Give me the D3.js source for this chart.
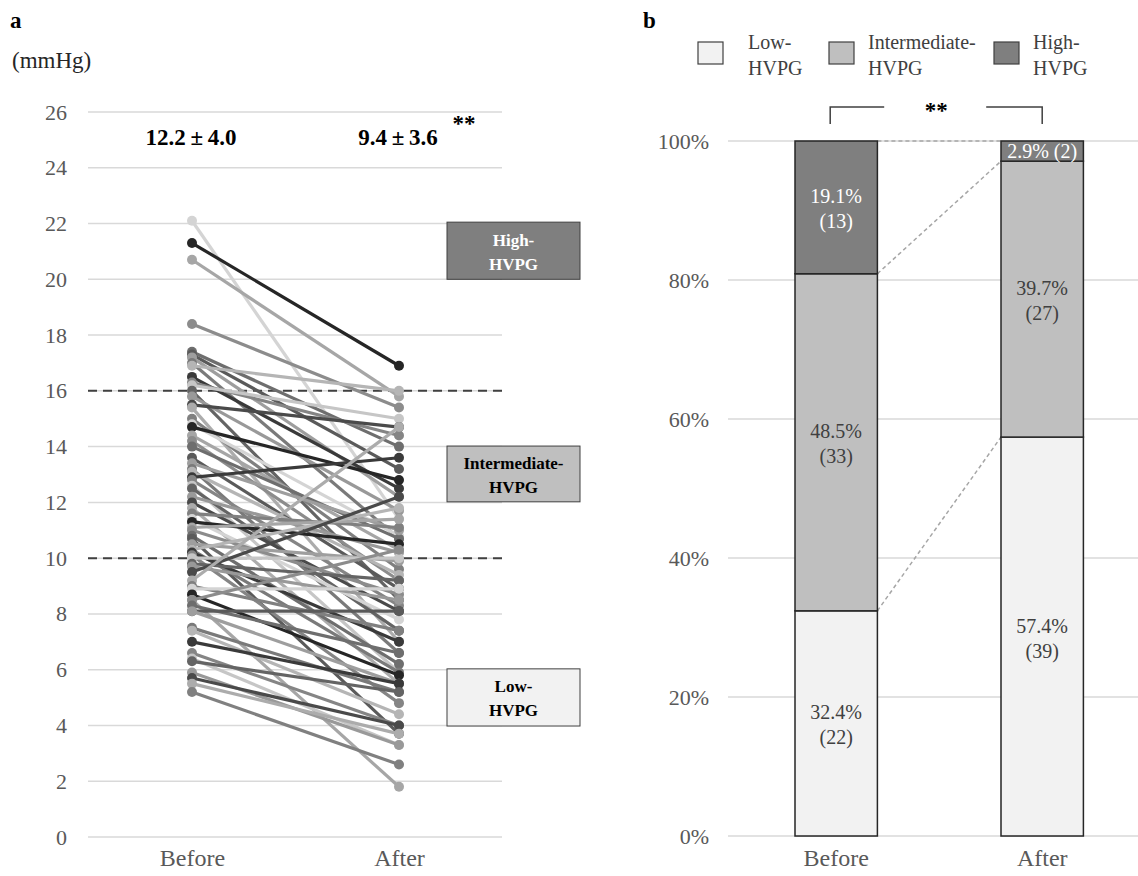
<!doctype html>
<html>
<head>
<meta charset="utf-8">
<style>
    body { margin: 0; background: #fff; }
    svg { display: block; font-family: 'Liberation Serif', 'Times New Roman', serif; }
    .tick-label { font-size: 22px; fill: #595959; }
    .cat-label { font-size: 24px; fill: #595959; }
    .grid { stroke: #d9d9d9; stroke-width: 1.5; }
    .panel { font-size: 23px; font-weight: bold; fill: #000; }
    .stat { font-size: 23px; font-weight: bold; fill: #000; }
    .box-text { font-size: 17px; font-weight: bold; }
    .seg-label { font-size: 20px; }
    .legend-text { font-size: 20px; fill: #404040; }
</style>
<script src="https://d3js.org/d3.v7.min.js"></script>
</head>
<body>
<svg width="1138" height="876"></svg>
<script>
// ---- data: panel a (HVPG per patient, mmHg)
const timepoints = ['Before', 'After'];
const hvpgBefore = [22.1, 21.3, 20.7, 18.4, 17.4, 17.3, 17.2, 17.0, 16.9, 16.5, 16.3, 16.2, 16.0,
    15.8, 15.5, 15.4, 15.0, 14.8, 14.7, 14.4, 14.2, 14.0, 13.6, 13.4, 13.2, 13.1, 12.9, 12.8, 12.6,
    12.5, 12.2, 12.0, 11.8, 11.6, 11.4, 11.3, 11.1, 11.0, 10.8, 10.7, 10.5, 10.3, 10.3, 10.2, 10.1, 10.0,
    9.8, 9.7, 9.5, 9.2, 9.0, 8.9, 8.7, 8.5, 8.5, 8.3, 8.1, 8.1, 7.5, 7.4, 7.0, 6.6, 6.4, 6.3, 5.9, 5.7, 5.5, 5.2];
const hvpgAfter = [11.4, 16.9, 15.8, 15.4, 14.0, 13.2, 12.2, 10.7, 16.0, 12.5, 14.4, 15.0, 8.5,
    11.7, 14.7, 7.0, 9.6, 10.8, 12.8, 10.3, 9.2, 10.7, 8.9, 11.0, 6.6, 9.4, 13.6, 8.3, 5.9,
    7.4, 10.2, 8.1, 5.5, 11.1, 7.8, 10.5, 11.4, 8.7, 6.2, 3.7, 9.9, 5.9, 11.8, 7.0, 4.8, 10.0,
    9.2, 8.5, 12.2, 14.7, 7.4, 8.9, 5.8, 1.8, 10.3, 6.6, 8.1, 5.5, 5.2, 4.4, 5.5, 4.0, 3.3, 5.2, 3.3, 4.0, 3.7, 2.6];
const yTicksA = [0, 2, 4, 6, 8, 10, 12, 14, 16, 18, 20, 22, 24, 26];
const cutoffs = [10, 16];
const statLabels = ['12.2\u2009\u00b1\u20094.0', '9.4\u2009\u00b1\u20093.6'];
const zoneBoxes = [
    { lines: ['High-', 'HVPG'], top: 22.05, bottom: 20.0, group: 'High-HVPG' },
    { lines: ['Intermediate-', 'HVPG'], top: 14.02, bottom: 12.02, group: 'Intermediate-HVPG' },
    { lines: ['Low-', 'HVPG'], top: 6.03, bottom: 3.98, group: 'Low-HVPG' }
];

// ---- data: panel b (category share, %, and counts)
const groups = ['Low-HVPG', 'Intermediate-HVPG', 'High-HVPG'];
const pctBefore = [32.4, 48.5, 19.1];
const pctAfter = [57.4, 39.7, 2.9];
const nBefore = [22, 33, 13];
const nAfter = [39, 27, 2];
const yTicksB = [0, 20, 40, 60, 80, 100];

const fills = { 'Low-HVPG': '#f2f2f2', 'Intermediate-HVPG': '#bfbfbf', 'High-HVPG': '#7f7f7f' };
const lineShades = ['#d4d4d4', '#262626', '#a6a6a6', '#8c8c8c', '#6e6e6e', '#5a5a5a', '#9e9e9e',
    '#7a7a7a', '#b5b5b5', '#3a3a3a', '#858585', '#c6c6c6', '#646464', '#999999', '#4a4a4a', '#acacac', '#808080'];

const svg = d3.select('svg');

function styleAxis(g, cls) {
    g.attr('font-family', null).attr('font-size', null);
    g.select('.domain').remove();
    g.selectAll('text').attr('class', cls).attr('fill', null);
}

// ================= panel a =================
const ya = d3.scaleLinear().domain([0, 26]).range([837, 112]);
const xa = d3.scalePoint().domain(timepoints).range([192, 399]);
const aLeft = 88, aRight = 502;

svg.append('text').attr('class', 'panel').attr('x', 10).attr('y', 28).text('a');
svg.append('text').attr('x', 12).attr('y', 68).attr('font-size', 23).attr('fill', '#262626').text('(mmHg)');

svg.append('g').selectAll('line').data(yTicksA).join('line')
    .attr('class', 'grid')
    .attr('x1', aLeft).attr('x2', aRight)
    .attr('y1', d => ya(d)).attr('y2', d => ya(d));

svg.append('g')
    .attr('transform', `translate(${aLeft - 10},0)`)
    .call(d3.axisLeft(ya).tickValues(yTicksA).tickSize(0).tickPadding(11))
    .call(styleAxis, 'tick-label');

svg.append('g')
    .attr('transform', 'translate(0,845)')
    .call(d3.axisBottom(xa).tickSize(0).tickPadding(4))
    .call(styleAxis, 'cat-label');

svg.append('g').selectAll('line').data(cutoffs).join('line')
    .attr('x1', aLeft).attr('x2', aRight)
    .attr('y1', d => ya(d)).attr('y2', d => ya(d))
    .attr('stroke', '#404040').attr('stroke-width', 2).attr('stroke-dasharray', '9,6');

const pts = hvpgBefore.map((b, i) => ({ b, a: hvpgAfter[i], c: lineShades[i % lineShades.length] }));
const pg = svg.append('g');
pts.forEach(p => {
    const g = pg.append('g');
    g.append('line')
        .attr('x1', xa('Before')).attr('y1', ya(p.b))
        .attr('x2', xa('After')).attr('y2', ya(p.a))
        .attr('stroke', p.c).attr('stroke-width', 3.2);
    g.append('circle').attr('cx', xa('Before')).attr('cy', ya(p.b)).attr('r', 5).attr('fill', p.c);
    g.append('circle').attr('cx', xa('After')).attr('cy', ya(p.a)).attr('r', 5).attr('fill', p.c);
});

svg.append('g').selectAll('text').data(statLabels).join('text')
    .attr('class', 'stat')
    .attr('x', (d, i) => xa(timepoints[i]) - 1)
    .attr('y', 145)
    .attr('text-anchor', 'middle')
    .text(d => d);
svg.append('text').attr('class', 'stat').attr('x', 464).attr('y', 131)
    .attr('text-anchor', 'middle').attr('font-size', 20).text('**');

const boxX = 447, boxW = 133;
const zg = svg.append('g').selectAll('g').data(zoneBoxes).join('g');
zg.append('rect')
    .attr('x', boxX).attr('width', boxW)
    .attr('y', d => ya(d.top)).attr('height', d => ya(d.bottom) - ya(d.top))
    .attr('fill', d => fills[d.group])
    .attr('stroke', '#404040').attr('stroke-width', 1);
zg.each(function (d) {
    const cy = (ya(d.top) + ya(d.bottom)) / 2;
    d3.select(this).selectAll('text.box-text').data(d.lines).join('text')
        .attr('class', 'box-text')
        .attr('x', boxX + boxW / 2)
        .attr('y', (t, i) => cy - 5 + i * 24)
        .attr('text-anchor', 'middle')
        .attr('fill', d.group === 'High-HVPG' ? '#fff' : '#000')
        .text(t => t);
});

// ================= panel b =================
const yb = d3.scaleLinear().domain([0, 100]).range([836, 141]);
const xb = d3.scaleBand().domain(timepoints).range([712.6, 1165.8]).paddingInner(0.6).paddingOuter(0.4);
const bLeft = 728, bRight = 1138;

svg.append('text').attr('class', 'panel').attr('x', 643).attr('y', 28).text('b');

svg.append('g').selectAll('line').data(yTicksB).join('line')
    .attr('class', 'grid')
    .attr('x1', bLeft).attr('x2', bRight)
    .attr('y1', d => yb(d)).attr('y2', d => yb(d));

svg.append('g')
    .attr('transform', `translate(${bLeft - 8},0)`)
    .call(d3.axisLeft(yb).tickValues(yTicksB).tickSize(0).tickPadding(11).tickFormat(d => d + '%'))
    .call(styleAxis, 'tick-label');

svg.append('g')
    .attr('transform', 'translate(0,845)')
    .call(d3.axisBottom(xb).tickSize(0).tickPadding(4))
    .call(styleAxis, 'cat-label');

const table = timepoints.map((t, ti) => {
    const pct = ti === 0 ? pctBefore : pctAfter;
    const n = ti === 0 ? nBefore : nAfter;
    const row = { time: t };
    groups.forEach((g, gi) => { row[g] = pct[gi]; row[g + '_n'] = n[gi]; });
    return row;
});
const stacked = d3.stack().keys(groups)(table);

// dashed connectors between bar tops of each stack level
const levels = stacked.map(s => [s[0][1], s[1][1]]);
svg.append('g').selectAll('line').data(levels).join('line')
    .attr('x1', xb('Before') + xb.bandwidth()).attr('x2', xb('After'))
    .attr('y1', d => yb(d[0])).attr('y2', d => yb(d[1]))
    .attr('stroke', '#a6a6a6').attr('stroke-width', 1.5).attr('stroke-dasharray', '4,3');

stacked.forEach(s => {
    const key = s.key;
    const g = svg.append('g');
    g.selectAll('rect').data(s).join('rect')
        .attr('x', d => xb(d.data.time))
        .attr('width', xb.bandwidth())
        .attr('y', d => yb(d[1]))
        .attr('height', d => yb(d[0]) - yb(d[1]))
        .attr('fill', fills[key])
        .attr('stroke', '#262626').attr('stroke-width', 1.5);
    s.forEach(d => {
        const pct = d.data[key], n = d.data[key + '_n'];
        const cx = xb(d.data.time) + xb.bandwidth() / 2;
        const cy = (yb(d[0]) + yb(d[1])) / 2;
        const col = key === 'High-HVPG' ? '#fff' : '#404040';
        if (pct < 5) {
            g.append('text').attr('class', 'seg-label')
                .attr('x', cx).attr('y', cy + 7).attr('text-anchor', 'middle')
                .attr('fill', col).attr('font-size', 19)
                .text(`${pct.toFixed(1)}% (${n})`);
        } else {
            g.append('text').attr('class', 'seg-label')
                .attr('x', cx).attr('y', cy - 4).attr('text-anchor', 'middle')
                .attr('fill', col).text(`${pct.toFixed(1)}%`);
            g.append('text').attr('class', 'seg-label')
                .attr('x', cx).attr('y', cy + 21).attr('text-anchor', 'middle')
                .attr('fill', col).text(`(${n})`);
        }
    });
});

// significance bracket
const cB = xb('Before') + xb.bandwidth() / 2 - 6;
const cA = xb('After') + xb.bandwidth() / 2;
const brY = 107, brDrop = 124;
const mid = (cB + cA) / 2;
svg.append('path')
    .attr('d', `M${cB},${brDrop}V${brY}H${mid - 52}M${mid + 50},${brY}H${cA}V${brDrop}`)
    .attr('fill', 'none').attr('stroke', '#404040').attr('stroke-width', 1.5);
svg.append('text').attr('class', 'stat').attr('x', mid).attr('y', 118)
    .attr('text-anchor', 'middle').attr('font-size', 20).text('**');

// legend
const legendX = [698, 829, 994];
const legendTextDx = [50, 39, 39];
const lg = svg.append('g').selectAll('g').data(groups).join('g')
    .attr('transform', (d, i) => `translate(${legendX[i]},42)`);
lg.append('rect').attr('width', 25).attr('height', 22)
    .attr('fill', d => fills[d]).attr('stroke', '#404040').attr('stroke-width', 1.2);
lg.each(function (d, i) {
    const parts = [d.split('-')[0] + '-', d.split('-')[1]];
    d3.select(this).selectAll('text').data(parts).join('text')
        .attr('class', 'legend-text')
        .attr('x', legendTextDx[i]).attr('y', (t, j) => 7 + j * 26)
        .text(t => t);
});
</script>
</body>
</html>
